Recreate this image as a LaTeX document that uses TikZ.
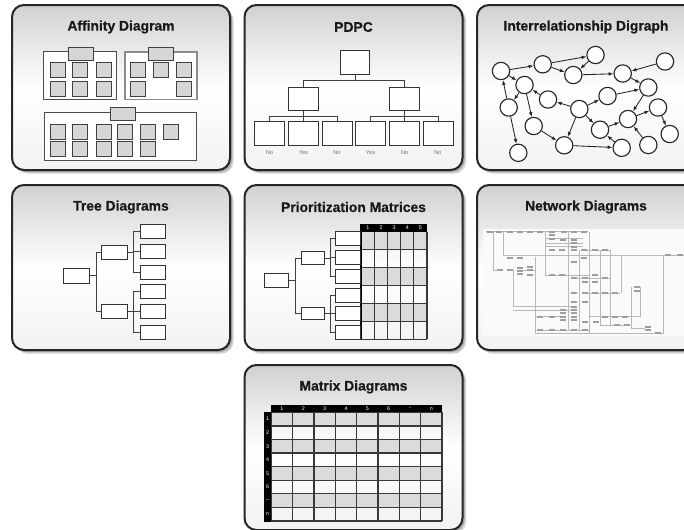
\documentclass[tikz,border=0pt]{standalone}
\usepackage{fontspec}
\setmainfont{Liberation Sans}
\newfontfamily\titlefont[FakeBold=0.6]{Liberation Sans Bold}
\usetikzlibrary{arrows.meta,calc}

\tikzset{
  panelbody/.style={draw=black!85, line width=1.5pt, rounded corners=9pt,
    top color=black!18, bottom color=black!5, middle color=white},
  panelshadow/.style={fill=black!35, rounded corners=9pt},
  paneltitle/.style={font=\titlefont\fontsize{10.4}{12}\selectfont, text=black!90, inner sep=0pt},
  card/.style={fill=black!16, draw=black!75, line width=0.75pt},
  group/.style={fill=white, draw=black!70, line width=0.7pt},
  box/.style={rectangle, draw=black!80, line width=0.75pt, fill=white, inner sep=0pt},
  link/.style={draw=black!75, line width=0.7pt},
  ans/.style={font=\fontsize{4.2}{5}\selectfont, text=black!55, inner sep=0pt},
  circ/.style={circle, draw=black!85, line width=0.85pt, fill=white, minimum size=13pt, inner sep=0pt},
  arr/.style={draw=black!85, line width=0.65pt, -{Latex[length=3.6pt,width=2.8pt]}},
  hdr/.style={font=\fontsize{4}{4}\selectfont, text=white, inner sep=0pt},
  grid/.style={draw=black!78, line width=0.9pt},
  netline/.style={draw=black!28, line width=0.4pt},
  netbox/.style={fill=black!38},
}

% rounded panel with drop shadow and title
\newcommand{\toolpanel}[4]{%
  \fill[panelshadow, fill=black!18] (#1+3.5,#2+3.5) rectangle ++(218,165);
  \fill[panelshadow] (#1+2,#2+2) rectangle ++(218,165);
  \path[panelbody] (#1,#2) rectangle ++(218,165);
  \node[paneltitle] (#3) at (#1+109,#2+22) {#4};
}

\begin{document}
\begin{tikzpicture}[x=0.75pt,y=-0.75pt]
\clip (0,0) rectangle (684,529);
\fill[white] (0,0) rectangle (684,529);

\toolpanel{12}{5}{t1}{Affinity Diagram}
\toolpanel{244.5}{5}{t2}{PDPC}
\toolpanel{477}{5}{t3}{Interrelationship Digraph}
\toolpanel{12}{185}{t4}{Tree Diagrams}
\toolpanel{244.5}{185}{t5}{Prioritization Matrices}
\toolpanel{477}{185}{t6}{Network Diagrams}
\toolpanel{244.5}{365}{t7}{Matrix Diagrams}

% ---------- Affinity diagram ----------
\draw[group] (43.3,51.7) rectangle (116.7,99.3);
\draw[card] (68.3,47.7) rectangle (93.3,60);
\foreach \x in {50,72.7,96} \foreach \y in {62.3,81}
  \draw[card] (\x,\y) rectangle ++(15,15.3);
\draw[group, draw=black!45, line width=1.2pt] (125,51.7) rectangle (196.7,99.3);
\draw[card] (148.3,47.7) rectangle (173.3,60);
\foreach \x/\y in {130/62.3,153.3/62.3,176.7/62.3,130/81,176.7/81}
  \draw[card] (\x,\y) rectangle ++(15,15.3);
\draw[group] (44.3,112.7) rectangle (196.7,160);
\draw[card] (110,107.3) rectangle (135,120.7);
\foreach \x in {50,72.7,96,117.7,140.7,163.3}
  \draw[card] (\x,124) rectangle ++(15,15.3);
\foreach \x in {50,72.7,96,117.7,140.7}
  \draw[card] (\x,141.7) rectangle ++(15,15);

% ---------- PDPC ----------
\node[box, minimum width=21.75pt, minimum height=18pt] (q0) at (355.2,62) {};
\node[box, minimum width=22.5pt, minimum height=17pt] (q1) at (303.7,98.7) {};
\node[box, minimum width=22.5pt, minimum height=17pt] (q2) at (404.7,98.7) {};
\foreach \i/\x in {1/269.7,2/303.7,3/337,4/370.5,5/404.7,6/438}
  \node[box, minimum width=22.5pt, minimum height=18pt] (l\i) at (\x,133.7) {};
\draw[link] (q0.south) -- ++(0,6) -| (q1.north);
\draw[link] (q0.south) -- ++(0,6) -| (q2.north);
\foreach \i in {1,2,3} \draw[link] (q1.south) -- ++(0,5.5) -| (l\i.north);
\foreach \i in {4,5,6} \draw[link] (q2.south) -- ++(0,5.5) -| (l\i.north);
\foreach \i/\t in {1/No,2/Yes,3/No,4/Yes,5/No,6/No}
  \node[ans] (a\i) at ($(l\i.south)+(0,6)$) {\t};

% ---------- Interrelationship digraph ----------
\foreach \n/\x/\y in {1/501/71,2/542.7/64.3,3/595.5/55,4/573.3/75,5/665/61.5,
  6/622.7/73.5,7/524.5/85,8/648.3/87.5,9/548/99.5,10/508.7/107.5,11/607.5/96,
  12/579.3/109,13/658/107.5,14/628/119,15/533.7/126,16/600/129.7,17/669.7/134,
  18/518.3/152.8,19/564.2/145.3,20/621.7/147.8,21/648.3/145}
  \node[circ] (c\n) at (\x,\y) {};
\foreach \a/\b in {1/2,2/3,2/4,3/4,4/6,5/6,6/8,1/7,10/1,7/10,10/18,7/15,9/7,
  12/9,15/19,12/19,19/20,12/11,11/8,8/14,12/16,16/14,14/13,13/17,21/14,20/16}
  \draw[arr] (c\a) -- (c\b);

% ---------- Tree diagram ----------
\node[box, minimum width=19.5pt, minimum height=11.25pt] (r0) at (76.3,275.8) {};
\node[box, minimum width=19.5pt, minimum height=10.5pt] (r1) at (114.7,252) {};
\node[box, minimum width=19.5pt, minimum height=10.5pt] (r2) at (114.7,311.2) {};
\foreach \i/\y in {1/231,2/251.7,3/272.7,4/291,5/311,6/332.3}
  \node[box, minimum width=18.75pt, minimum height=10.5pt] (u\i) at (152.5,\y) {};
\draw[link] (r0.east) -- ++(6.7,0) |- (r1.west);
\draw[link] (r0.east) -- ++(6.7,0) |- (r2.west);
\foreach \i in {1,2,3} \draw[link] (r1.east) -- ++(5.6,0) |- (u\i.west);
\foreach \i in {4,5,6} \draw[link] (r2.east) -- ++(5.6,0) |- (u\i.west);

% ---------- Prioritization matrix ----------
\foreach \r in {0,2,4}
  \fill[black!14] (361.3,231.7+17.93*\r) rectangle ++(65.7,17.93);
\foreach \c in {0,...,5} \draw[grid] (361.3+13.14*\c,231.7) -- ++(0,107.6);
\foreach \r in {0,...,6} \draw[grid] (361.3,231.7+17.93*\r) -- ++(65.7,0);
\draw[black, line width=1.6pt] (361.3,224.3) -- (361.3,339.3);
\fill[black] (361.3,224.3) rectangle (427,231.7);
\foreach \c in {1,...,5}
  \node[hdr] (ph\c) at (361.3+13.14*\c-6.57,228) {\c};
\node[box, minimum width=18pt, minimum height=10.5pt] (p0) at (276.7,280.3) {};
\node[box, minimum width=17pt, minimum height=9.4pt] (p1) at (312.7,258) {};
\node[box, minimum width=17pt, minimum height=9.4pt] (p2) at (312.7,313.7) {};
\foreach \i/\y in {1/238.3,2/257.3,3/276.7,4/295,5/313.3,6/332.7}
  \node[box, minimum width=18.75pt, minimum height=10.5pt] (v\i) at (348.2,\y) {};
\draw[link] (p0.east) -- ++(6.6,0) |- (p1.west);
\draw[link] (p0.east) -- ++(6.6,0) |- (p2.west);
\foreach \i in {1,2,3} \draw[link] (p1.east) -- ++(5.7,0) |- (v\i.west);
\foreach \i in {4,5,6} \draw[link] (p2.east) -- ++(5.7,0) |- (v\i.west);

% ---------- Network diagram ----------
\fill[black!2] (483,229) rectangle (684,336);
\draw[netline] (486,231.7) -- (588,231.7);
\draw[netline] (493.3,231.7) -- (493.3,270) -- (500,270);
\draw[netline] (503.3,231.7) -- (503.3,255) -- (684,255);
\draw[netline] (513.3,270) -- (513.3,306.7) -- (575,306.7);
\draw[netline] (513.3,310) -- (575,310);
\draw[netline] (535,256.7) -- (535,333.3) -- (663.3,333.3) -- (663.3,255);
\draw[netline] (545,231.7) -- (545,275) -- (590,275);
\draw[netline] (545,238.3) -- (583,238.3);
\draw[netline] (545,243.3) -- (583,243.3);
\draw[netline] (545,246.7) -- (583,246.7);
\draw[netline] (568.3,231.7) -- (568.3,330);
\draw[netline] (579.3,250) -- (579.3,330);
\draw[netline] (589.3,231.7) -- (589.3,333.3);
\draw[netline] (600.7,250) -- (600.7,325);
\draw[netline] (610,250) -- (610,325);
\draw[netline] (621.7,255) -- (621.7,293.3);
\draw[netline] (631.7,287) -- (631.7,328) -- (645,328);
\draw[netline] (589.3,316.7) -- (640,316.7) -- (640,287);
\draw[netline] (600,325) -- (630,325);
\draw[netline] (535,316.7) -- (560,316.7);
\draw[netline] (520,270.7) -- (535,270.7);
\draw[netline] (540,330) -- (590,330);
\draw[netline] (585,293.3) -- (620,293.3);
\draw[netline] (583,250) -- (610,250);
\draw[netline] (574,278.3) -- (610,278.3);
\foreach \x/\y in {490/231.7,499.3/231.7,510/231.7,520/231.7,530/231.7,540.3/231.7,
  552.3/231.7,563.7/231.7,573.7/231.7,583.7/231.7,552/235.3,552/238.5,
  563.3/240,574.3/240,574.3/243.3,574.3/246.7,574.3/250,551.7/250,561.7/250,
  583.5/250,595/250,605/250,510/258.3,520/258.3,583.5/258.3,574.3/262.3,
  530/266.7,530/270,520/268.3,520/271,520/273.5,500/270,510/270,530/275,
  551.7/275,561.7/275,574.3/278.3,585/278.3,585/281.7,595/275,595/281.7,605/278.3,
  574.3/293.3,585/293.3,595/293.3,605/293.3,615/293.3,574.3/301.7,585/301.7,
  563.3/310,563.3/313.3,563.3/316.7,563.3/320,574.3/306.7,574.3/310,574.3/313.3,
  574.3/316.7,574.3/320,540/316.7,551.7/316.7,585/321.7,596/321.7,
  605/316.7,615/316.7,625/316.7,616.7/325,626.7/325,
  540/330,551.7/330,563.3/330,574.3/330,585/330,636.7/286.7,636.7/290.7,
  648.3/327,648.3/330,658/333,668/255,680/255}
  \fill[netbox] (\x-3,\y-1) rectangle (\x+3,\y+1);

% ---------- Matrix diagram ----------
\foreach \r in {0,2,4,6}
  \fill[black!14] (271.3,412.3+13.59*\r) rectangle ++(170.7,13.59);
\foreach \c in {0,...,8} \draw[grid] (271.3+21.34*\c,412.3) -- ++(0,108.7);
\foreach \r in {0,...,8} \draw[grid] (271.3,412.3+13.59*\r) -- ++(170.7,0);
\fill[black] (271.3,405) rectangle (442,412.3);
\fill[black] (264,412.3) rectangle (271.3,521.5);
\foreach \c/\t in {1/1,2/2,3/3,4/4,5/5,6/6,7/{..},8/n}
  \node[hdr] (mh\c) at (271.3+21.34*\c-10.67,408.7) {\t};
\foreach \r/\t in {1/1,2/2,3/3,4/4,5/5,6/6,7/{--},8/n}
  \node[hdr] (mr\r) at (267.6,412.3+13.59*\r-6.8) {\t};
\end{tikzpicture}
\end{document}
